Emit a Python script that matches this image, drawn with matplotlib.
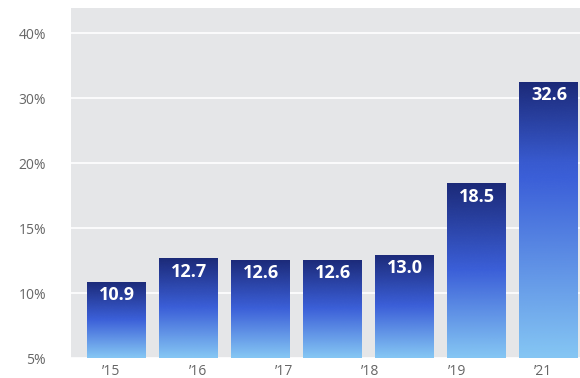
import numpy as np
import matplotlib
matplotlib.use("Agg")
import matplotlib.pyplot as plt
from matplotlib.colors import LinearSegmentedColormap
from matplotlib.transforms import offset_copy

# ---- data ----
bar_values = [10.9, 12.7, 12.6, 12.6, 13.0, 18.5, 32.6]
bar_labels = ["10.9", "12.7", "12.6", "12.6", "13.0", "18.5", "32.6"]
x_tick_labels = ["\u201915", "\u201916", "\u201917", "\u201918", "\u201919", "\u201921"]
y_tick_values = [5, 10, 15, 20, 30, 40]
y_tick_labels = ["5%", "10%", "15%", "20%", "30%", "40%"]

# piecewise scale: ticks evenly spaced
brk = np.array(y_tick_values, dtype=float)
idx = np.arange(len(brk), dtype=float)

def fwd(v):
    v = np.asarray(v, dtype=float)
    return np.where(v > brk[-1], idx[-1] + (v - brk[-1]) / (brk[-1] - brk[-2]),
                    np.where(v < brk[0], (v - brk[0]) / (brk[1] - brk[0]),
                             np.interp(v, brk, idx)))

def inv(u):
    u = np.asarray(u, dtype=float)
    return np.where(u > idx[-1], brk[-1] + (u - idx[-1]) * (brk[-1] - brk[-2]),
                    np.where(u < 0, brk[0] + u * (brk[1] - brk[0]),
                             np.interp(u, idx, brk)))

plt.rcParams['font.family'] = ['Open Sans', 'DejaVu Sans']

fig = plt.figure(figsize=(5.8, 3.78), dpi=100)
ax = fig.add_axes([71/580, 20/378, 509/580, 350/378])
ax.set_facecolor("#e5e6e8")
ax.set_yscale("function", functions=(fwd, inv))
n = len(bar_values)

ax.set_yticks(y_tick_values)
ax.set_yticklabels(y_tick_labels)
ax.yaxis.grid(True, color="white", linewidth=1.2)
ax.set_axisbelow(True)
ax.tick_params(axis="y", length=0, pad=18, labelsize=10, labelcolor="#666666")
ax.tick_params(axis="x", length=0, pad=4, labelsize=10, labelcolor="#666666")
ax.minorticks_off()
for s in ax.spines.values():
    s.set_visible(False)

xt = np.linspace(0, n - 1, len(x_tick_labels)) - 0.08
ax.set_xticks(xt)
ax.set_xticklabels(x_tick_labels)

cmap = LinearSegmentedColormap.from_list(
    "g", [(0.0, "#1b2977"), (0.5, "#3b5fd8"), (1.0, "#85c6f4")])
grad = np.linspace(0, 1, 256).reshape(-1, 1)

width = 60 / 72
xs = np.arange(n)
bars = ax.bar(xs, bar_values, width=width, bottom=0, color="none")
for b, val, lab in zip(bars, bar_values, bar_labels):
    x0 = b.get_x()
    im = ax.imshow(grad, cmap=cmap, aspect="auto",
                   extent=(x0, x0 + width, 5, val), origin="upper",
                   interpolation="bicubic", zorder=2)
    im.set_clip_path(b)
    tr = offset_copy(ax.transData, fig=fig, x=0, y=-5, units="dots")
    ax.text(x0 + width / 2, val, lab, transform=tr, ha="center", va="top",
            color="white", fontsize=13, fontweight="bold", zorder=3)

ax.set_xlim(-0.64, n - 1 + 0.43)
ax.set_ylim(5, 43.85)
fig.savefig("out.png", dpi=100)
